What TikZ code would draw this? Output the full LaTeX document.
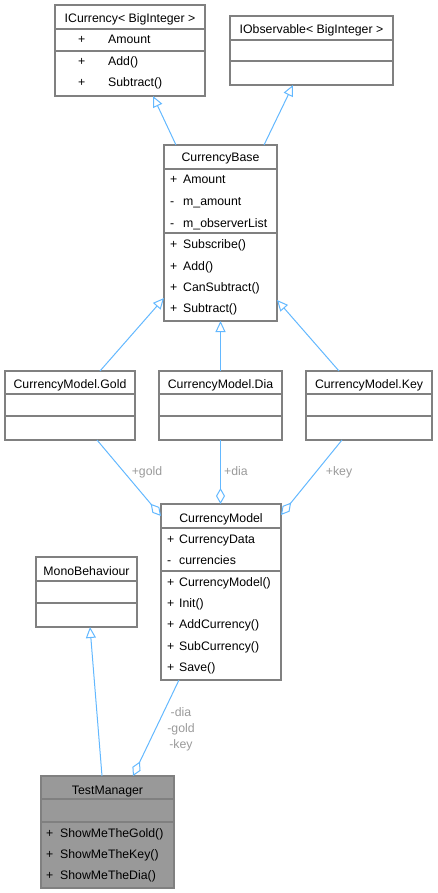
\documentclass[tikz,border=0pt]{standalone}
\usepackage{fontspec}
\setmainfont{Liberation Sans}
\usetikzlibrary{arrows.meta}

\definecolor{edgeblue}{HTML}{63B8FF}
\definecolor{boxgray}{HTML}{808080}
\definecolor{lblgray}{HTML}{9A9A9A}
\definecolor{curfill}{HTML}{999999}

\tikzset{
	classbox/.style={draw=boxgray, line width=1.3pt, fill=white, anchor=north west,
		inner sep=0pt, outer sep=0pt},
	sep/.style={draw=boxgray, line width=1.3pt},
	title/.style={anchor=base, inner sep=0pt, font=\fontsize{12.3}{14}\selectfont},
	member/.style={anchor=base west, inner sep=0pt, font=\fontsize{12.3}{14}\selectfont},
	lbl/.style={anchor=base, inner sep=0pt, text=lblgray, font=\fontsize{12.3}{14}\selectfont},
	inherit/.style={draw=edgeblue, line width=1pt, -{Triangle[open, length=11pt, width=10pt]}},
	aggr/.style={draw=edgeblue, line width=1pt, {Diamond[open, length=16pt, width=9pt]}-}
}

\begin{document}
\begin{tikzpicture}[x=1pt, y=-1pt]
	\useasboundingbox (0,0) rectangle (437,893);

	% ICurrency< BigInteger >
	\node [classbox, minimum width=150pt, minimum height=91pt] (icur) at (55,5) {};
	\draw [sep] (55,29) -- (205,29);
	\draw [sep] (55,51) -- (205,51);
	\node [title] at (130,23) {ICurrency< BigInteger >};
	\node [member] at (78,44) {\makebox[30pt][l]{+}Amount};
	\node [member] at (78,66) {\makebox[30pt][l]{+}Add()};
	\node [member] at (78,87) {\makebox[30pt][l]{+}Subtract()};

	% IObservable< BigInteger >
	\node [classbox, minimum width=163pt, minimum height=69pt] (iobs) at (230,16) {};
	\draw [sep] (230,40) -- (393,40);
	\draw [sep] (230,61) -- (393,61);
	\node [title] at (311.5,34) {IObservable< BigInteger >};

	% CurrencyBase
	\node [classbox, minimum width=113pt, minimum height=176pt] (base) at (164,145) {};
	\draw [sep] (164,169) -- (277,169);
	\draw [sep] (164,233) -- (277,233);
	\node [title] at (220.5,162) {CurrencyBase};
	\node [member] at (170,184) {\makebox[13pt][l]{+}Amount};
	\node [member] at (170,206) {\makebox[13pt][l]{-}m\_amount};
	\node [member] at (170,227) {\makebox[13pt][l]{-}m\_observerList};
	\node [member] at (170,248) {\makebox[13pt][l]{+}Subscribe()};
	\node [member] at (170,270) {\makebox[13pt][l]{+}Add()};
	\node [member] at (170,291) {\makebox[13pt][l]{+}CanSubtract()};
	\node [member] at (170,312) {\makebox[13pt][l]{+}Subtract()};

	% nested currency classes
	\node [classbox, minimum width=130pt, minimum height=69pt] (gold) at (5,371) {};
	\draw [sep] (5,394) -- (135,394);
	\draw [sep] (5,416) -- (135,416);
	\node [title] at (70,388) {CurrencyModel.Gold};

	\node [classbox, minimum width=123pt, minimum height=69pt] (dia) at (159,371) {};
	\draw [sep] (159,394) -- (282,394);
	\draw [sep] (159,416) -- (282,416);
	\node [title] at (220.5,388) {CurrencyModel.Dia};

	\node [classbox, minimum width=126pt, minimum height=69pt] (key) at (306,371) {};
	\draw [sep] (306,394) -- (432,394);
	\draw [sep] (306,416) -- (432,416);
	\node [title] at (369,388) {CurrencyModel.Key};

	% CurrencyModel
	\node [classbox, minimum width=120pt, minimum height=176pt] (model) at (161,504) {};
	\draw [sep] (161,528) -- (281,528);
	\draw [sep] (161,571) -- (281,571);
	\node [title] at (221,522) {CurrencyModel};
	\node [member] at (167,543) {\makebox[12pt][l]{+}CurrencyData};
	\node [member] at (167,564) {\makebox[12pt][l]{-}currencies};
	\node [member] at (167,586) {\makebox[12pt][l]{+}CurrencyModel()};
	\node [member] at (167,607) {\makebox[12pt][l]{+}Init()};
	\node [member] at (167,628) {\makebox[12pt][l]{+}AddCurrency()};
	\node [member] at (167,650) {\makebox[12pt][l]{+}SubCurrency()};
	\node [member] at (167,671) {\makebox[12pt][l]{+}Save()};

	% MonoBehaviour
	\node [classbox, minimum width=101pt, minimum height=70pt] (mono) at (36,557) {};
	\draw [sep] (36,581) -- (137,581);
	\draw [sep] (36,603) -- (137,603);
	\node [title] at (86.5,575) {MonoBehaviour};

	% TestManager
	\node [classbox, fill=curfill, draw=gray, minimum width=133pt, minimum height=112pt] (test) at (41,776) {};
	\draw [sep, draw=gray] (41,799) -- (174,799);
	\draw [sep, draw=gray] (41,822) -- (174,822);
	\node [title] at (107.5,794) {TestManager};
	\node [member] at (46,837) {\makebox[14pt][l]{+}ShowMeTheGold()};
	\node [member] at (46,858) {\makebox[14pt][l]{+}ShowMeTheKey()};
	\node [member] at (46,879) {\makebox[14pt][l]{+}ShowMeTheDia()};

	% inheritance
	\draw [inherit] ([xshift=-44.5pt]base.north) -- ([xshift=23pt]icur.south);
	\draw [inherit] ([xshift=43.5pt]base.north) -- ([xshift=-18.5pt]iobs.south);
	\draw [inherit] ([xshift=30pt]gold.north) -- ([yshift=-65pt]base.west);
	\draw [inherit] (dia.north) -- (dia.north |- base.south);
	\draw [inherit] ([xshift=-30pt]key.north) -- ([yshift=-67pt]base.east);
	\draw [inherit] ([xshift=-5.5pt]test.north) -- ([xshift=3.5pt]mono.south);

	% aggregation
	\draw [aggr] ([yshift=-12pt]model.north west) -- ([xshift=27pt]gold.south);
	\draw [aggr] (dia.south |- model.north) -- (dia.south);
	\draw [aggr] ([yshift=-11pt]model.north east) -- ([xshift=-27pt]key.south);
	\draw [aggr] ([xshift=25.5pt]test.north) -- ([xshift=-42pt]model.south);

	\node [lbl] (lgold) at (147,475) {+gold};
	\node [lbl] (ldia) at (236,475) {+dia};
	\node [lbl] (lkey) at (339,475) {+key};
	\node [lbl] (ldia2) at (181,716) {-dia};
	\node [lbl] (lgold2) at (181,732) {-gold};
	\node [lbl] (lkey2) at (181,748) {-key};
\end{tikzpicture}
\end{document}
